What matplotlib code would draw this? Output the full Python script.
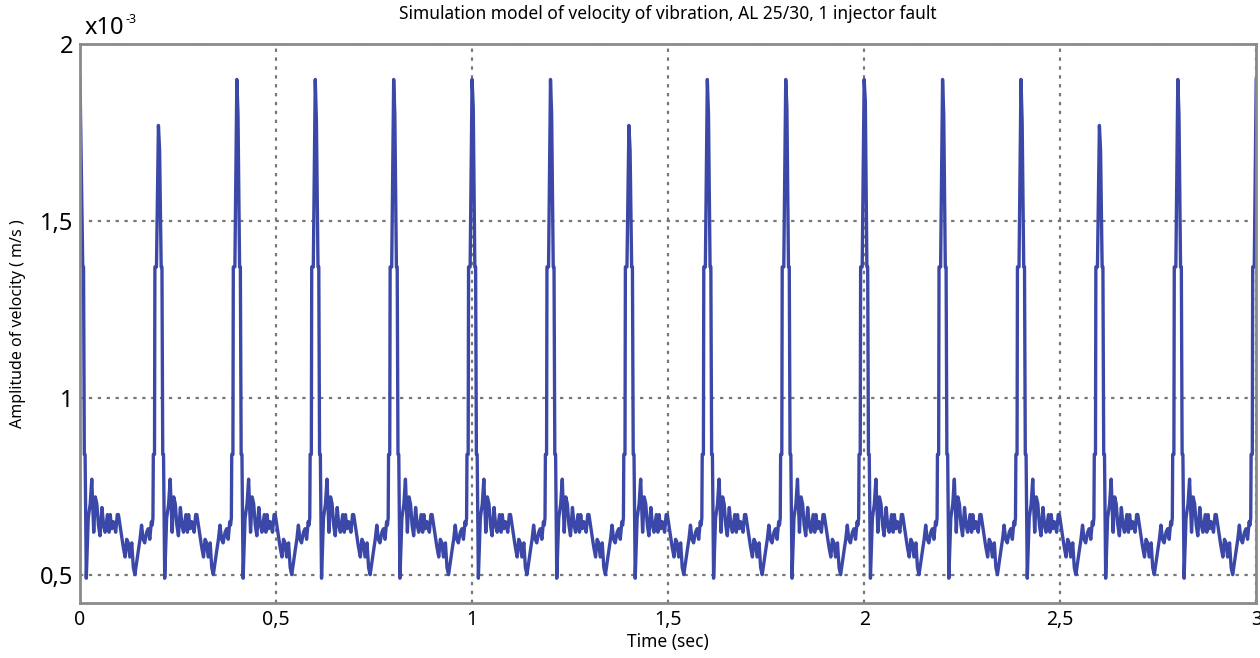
import matplotlib
matplotlib.use("Agg")
import matplotlib.pyplot as plt
import numpy as np

plt.rcParams['font.family'] = ['Noto Sans', 'DejaVu Sans']

# peak times (sec) and peak heights (x1e-3 m/s)
peak_times = [0.0, 0.2, 0.4, 0.6, 0.8, 1.0, 1.2, 1.4, 1.6, 1.8, 2.0, 2.2, 2.4, 2.6, 2.8, 3.0]
peak_values = [1.9, 1.77, 1.9, 1.9, 1.9, 1.9, 1.9, 1.77, 1.9, 1.9, 1.9, 1.9, 1.9, 1.77, 1.9, 1.9]
shoulder_values = [1.68, 1.70, 1.80, 1.78, 1.80, 1.82, 1.80, 1.70, 1.80, 1.82, 1.84, 1.80, 1.78, 1.70, 1.80, 1.78]

# one combustion cycle after a peak: offset from peak (sec) and amplitude
cycle_dt = [0.003, 0.007, 0.009, 0.011, 0.013, 0.016, 0.021, 0.026, 0.030, 0.035, 0.039,
            0.043, 0.047, 0.051, 0.056, 0.060, 0.064, 0.070, 0.074, 0.077, 0.081,
            0.085, 0.091, 0.095, 0.098, 0.102, 0.106, 0.110, 0.115, 0.119, 0.123,
            0.127, 0.132, 0.136, 0.140, 0.145, 0.149, 0.153, 0.157, 0.161, 0.165,
            0.170, 0.174, 0.178, 0.182, 0.184, 0.186, 0.187, 0.190, 0.191, 0.195]
cycle_v = [None, 1.37, 1.37, 0.84, 0.84, 0.49, 0.66, 0.70, 0.77, 0.62, 0.72,
           0.70, 0.64, 0.61, 0.69, 0.64, 0.62, 0.67, 0.62, 0.67, 0.63,
           0.65, 0.62, 0.67, 0.67, 0.64, 0.61, 0.58, 0.55, 0.60, 0.59,
           0.55, 0.59, 0.52, 0.50, 0.54, 0.57, 0.60, 0.64, 0.60, 0.59,
           0.62, 0.63, 0.60, 0.65, 0.64, 0.66, 0.84, 0.84, 1.37, 1.37]

t, v = [], []
for i, (tp, pv) in enumerate(zip(peak_times, peak_values)):
    t.append(tp)
    v.append(pv)
    if i == len(peak_times) - 1:
        break
    for dt, cv in zip(cycle_dt, cycle_v):
        t.append(tp + dt)
        v.append(shoulder_values[i] if cv is None else cv)
t = np.array(t)
v = np.array(v)

fig = plt.figure(figsize=(12.6, 6.58), dpi=100)
ax = fig.add_axes([0.0635, 0.0836, 0.9335, 0.8494])

ax.plot(t, v, color='#3c48a8', linewidth=2.4)

ax.set_xlim(0, 3)
ax.set_ylim(0.42, 2.0)
xt = [0, 0.5, 1, 1.5, 2, 2.5, 3]
yt = [0.5, 1, 1.5, 2]
ax.set_xticks(xt)
ax.set_xticklabels([f"{x:g}".replace('.', ',') for x in xt], fontsize=14)
ax.set_yticks(yt)
ax.set_yticklabels([f"{y:g}".replace('.', ',') for y in yt], fontsize=17)
ax.tick_params(length=0, pad=5)
ax.grid(True, linestyle=(0, (1.5, 2.5)), color='#777777', linewidth=1.6)

for s in ax.spines.values():
    s.set_color('#8a8a8a')
    s.set_linewidth(2)

ax.set_title("Simulation model of velocity of vibration, AL 25/30, 1 injector fault",
             fontsize=12.5, pad=18)
ax.set_xlabel("Time (sec)", fontsize=12.5, labelpad=2)
ax.set_ylabel("Amplitude of velocity ( m/s )", fontsize=11.5, labelpad=10)
base = ax.text(0.004, 1.008, "x10", transform=ax.transAxes, fontsize=17,
               ha='left', va='bottom')
ax.annotate("-3", xy=(1.0, 0.85), xycoords=base, xytext=(1, 0),
            textcoords='offset points', fontsize=9, ha='left', va='center')

fig.savefig("out.png", dpi=100)
